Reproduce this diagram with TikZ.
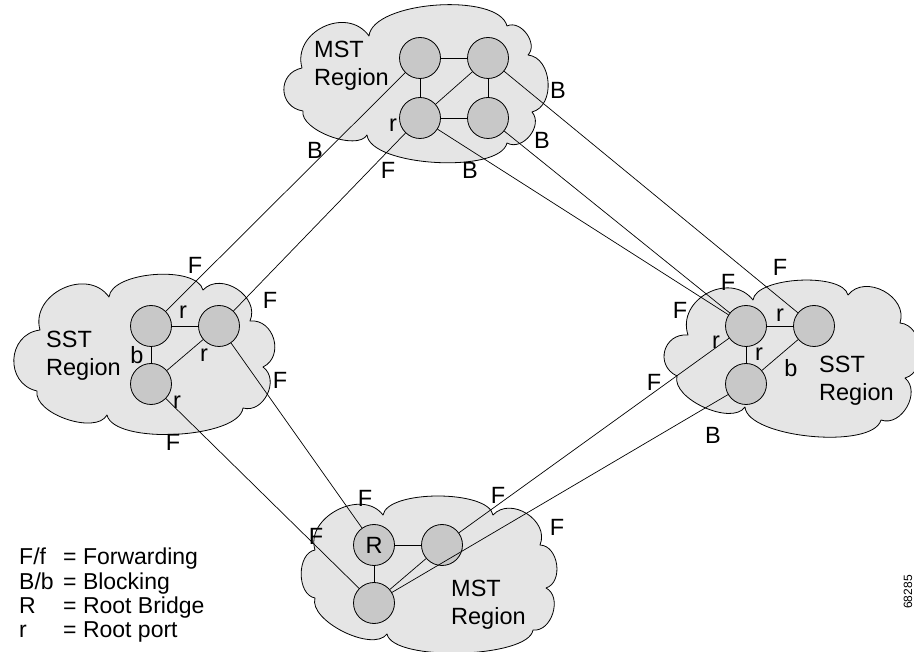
\documentclass[tikz,border=0pt]{standalone}
\usepackage{fontspec}
\setmainfont{Liberation Sans}
\definecolor{cloudfill}{RGB}{229,229,229}
\definecolor{nodefill}{RGB}{200,200,200}
\begin{document}
\begin{tikzpicture}[x=1pt,y=-1pt,
  cloudline/.style={draw=black, fill=cloudfill, line width=0.8pt, line join=round},
  pf/.style={bend left=80, looseness=#1},
  sw/.style={circle, draw=black, fill=nodefill, minimum size=41pt, inner sep=0pt, line width=0.8pt, font=\fontsize{23.5}{28}\selectfont},
  link/.style={draw=black, line width=0.7pt},
  lbl/.style={font=\fontsize{23.5}{28}\selectfont, inner sep=0pt},
  regtxt/.style={font=\fontsize{23.5}{28}\selectfont, align=left, anchor=west, inner sep=0pt},
  legtxt/.style={font=\fontsize{23}{27}\selectfont, anchor=base west, inner sep=0pt}
]
\useasboundingbox (0,0) rectangle (914,652);
% clouds
\path[cloudline] (302,68) to[pf=1.3] (369,36) to[pf=0.65] (507,26) to[pf=1.1] (528,55)
  to[pf=1.1] (532,112) to[pf=1.15] (507,143) to[pf=0.58] (367,135) to[pf=0.72] (303,111)
  to[pf=1.5] (302,68) -- cycle;
\path[cloudline] (40,330) to[pf=1.25] (109,297) to[pf=0.7] (203,290) to[pf=1.2] (250,321)
  to[pf=1.3] (263,367) to[pf=1.2] (243,408) to[pf=0.58] (107,415) to[pf=0.8] (37,391)
  to[pf=1.4] (40,330) -- cycle;
\path[cloudline] (688,335) to[pf=1.3] (753,300) to[pf=0.63] (848,295) to[pf=1.2] (900,323)
  to[pf=1.1] (905,378) to[pf=1.15] (881,420) to[pf=0.58] (745,407) to[pf=0.8] (677,376)
  to[pf=1.5] (688,335) -- cycle;
\path[cloudline] (315,550) to[pf=1.15] (383,515) to[pf=0.6] (493,515) to[pf=1.2] (540,545)
  to[pf=1.1] (546,588) to[pf=1.1] (533,630) to[pf=0.5] (387,634) to[pf=0.75] (315,598)
  to[pf=1.0] (315,550) -- cycle;
% region texts
\node[regtxt] (tT) at (314,66) {MST\\Region};
\node[regtxt] (tL) at (46,356) {SST\\Region};
\node[regtxt] (tR) at (819,381) {SST\\Region};
\node[regtxt] (tB) at (451,605) {MST\\Region};
% switches
\node[sw] (TA) at (420,58) {};
\node[sw] (TB) at (488,58) {};
\node[sw] (TC) at (420,118) {};
\node[sw] (TD) at (488,118) {};
\node[sw] (LA) at (151,326) {};
\node[sw] (LB) at (219,326) {};
\node[sw] (LC) at (151,384) {};
\node[sw] (RA) at (746,326) {};
\node[sw] (RB) at (814,326) {};
\node[sw] (RC) at (746,384) {};
\node[sw] (BR) at (374,545) {R};
\node[sw] (BB) at (442,545) {};
\node[sw] (BC) at (374,603) {};
% internal links
\draw[link] (TA) -- (TB);
\draw[link] (TA) -- (TC);
\draw[link] (TB) -- (TD);
\draw[link] (TC) -- (TD);
\draw[link] (TC) -- (TB);
\draw[link] (LA) -- (LB);
\draw[link] (LA) -- (LC);
\draw[link] (LB) -- (LC);
\draw[link] (RA) -- (RB);
\draw[link] (RA) -- (RC);
\draw[link] (RB) -- (RC);
\draw[link] (BR) -- (BB);
\draw[link] (BR) -- (BC);
\draw[link] (BB) -- (BC);
% inter-region links
\draw[link] (TA) -- (LA);
\draw[link] (TC) -- (LB);
\draw[link] (TB) -- (RB);
\draw[link] (TD) -- (RA);
\draw[link] (TC) -- (RA);
\draw[link] (LC) -- (BC);
\draw[link] (LB) -- (BR);
\draw[link] (BB) -- (RA);
\draw[link] (BC) -- (RC);
% port labels
\node[lbl] (l1) at (315,150) {B};
\node[lbl] (l2) at (195,265) {F};
\node[lbl] (l3) at (388,170) {F};
\node[lbl] (l4) at (270,300) {F};
\node[lbl] (l5) at (393,125) {r};
\node[lbl] (l6) at (558,90) {B};
\node[lbl] (l7) at (780,267) {F};
\node[lbl] (l8) at (542,140) {B};
\node[lbl] (l9) at (728,282) {F};
\node[lbl] (l10) at (470,170) {B};
\node[lbl] (l11) at (680,310) {F};
\node[lbl] (l12) at (173,442) {F};
\node[lbl] (l13) at (316,536) {F};
\node[lbl] (l14) at (177,402) {r};
\node[lbl] (l15) at (280,380) {F};
\node[lbl] (l16) at (365,498) {F};
\node[lbl] (l17) at (498,495) {F};
\node[lbl] (l18) at (654,382) {F};
\node[lbl] (l19) at (716,342) {r};
\node[lbl] (l20) at (557,527) {F};
\node[lbl] (l21) at (713,435) {B};
\node[lbl] (l22) at (183,312) {r};
\node[lbl] (l23) at (137,355) {b};
\node[lbl] (l24) at (204,355) {r};
\node[lbl] (l25) at (780,315) {r};
\node[lbl] (l26) at (759,354) {r};
\node[lbl] (l27) at (791,368) {b};
% legend
\node[legtxt] (k1) at (19,565) {F/f};
\node[legtxt] (k2) at (19,589) {B/b};
\node[legtxt] (k3) at (19,613) {R};
\node[legtxt] (k4) at (19,637) {r};
\node[legtxt] (v1) at (63,565) {= Forwarding};
\node[legtxt] (v2) at (63,589) {= Blocking};
\node[legtxt] (v3) at (63,613) {= Root Bridge};
\node[legtxt] (v4) at (63,637) {= Root port};
\node[font=\fontsize{12}{14}\selectfont, rotate=90, inner sep=0pt] (fig) at (908,592) {68285};
\end{tikzpicture}
\end{document}
